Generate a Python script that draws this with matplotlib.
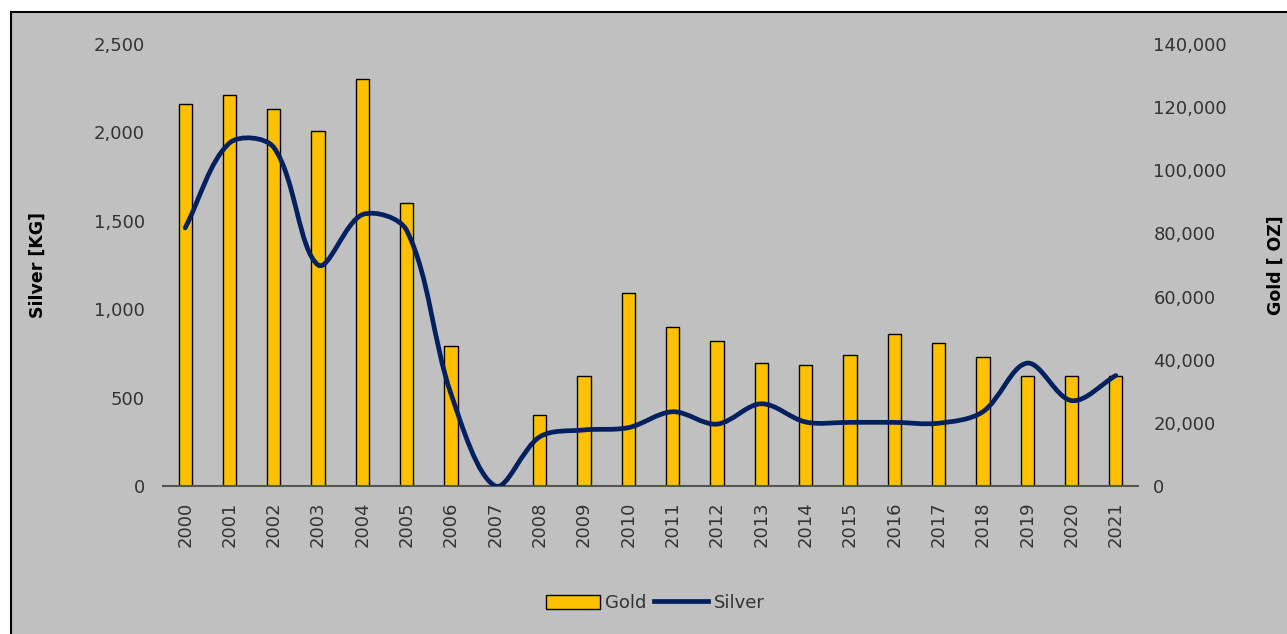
import numpy as np
import matplotlib
matplotlib.use("Agg")
import matplotlib.pyplot as plt
from matplotlib.path import Path
from matplotlib.patches import PathPatch, Rectangle, Patch
from matplotlib.lines import Line2D
from matplotlib.ticker import FuncFormatter

# ===== data =====
years = [str(y) for y in range(2000, 2022)]
gold_oz = [121000, 124000, 119500, 112500, 129000, 89500, 44500, 0, 22500, 35000,
           61000, 50500, 46000, 39000, 38300, 41500, 48000, 45300, 40800, 35000,
           35000, 35000]
silver_kg = [1460, 1940, 1915, 1250, 1535, 1445, 520, 0, 278, 317,
             330, 420, 350, 465, 362, 360, 360, 355, 420, 695,
             483, 625]

BG = "#C0C0C0"
GOLD = "#FFC000"
NAVY = "#002060"
TXT = "#333333"

W, H = 1287, 634
fig = plt.figure(figsize=(W / 100, H / 100), dpi=100, facecolor="white")
# chart frame
fig.patches.append(Rectangle((11 / W, -0.02), 1.05, 1 - 12 / H + 0.02,
                             transform=fig.transFigure, facecolor=BG,
                             edgecolor="black", linewidth=1.5, zorder=-10))

x = np.arange(len(years))
ax_g = fig.add_axes([163 / W, 148 / H, 975 / W, 442 / H])
ax_g.set_facecolor("none")
ax_s = ax_g.twinx()

# --- gold bars (right scale) ---
ax_g.bar(x, gold_oz, width=0.3, color=GOLD, edgecolor="black", linewidth=1.0)
ax_g.set_xlim(-0.5, len(years) - 0.5)
ax_g.set_ylim(0, 140000)
ax_g.set_yticks(np.arange(0, 140001, 20000))
ax_g.yaxis.set_major_formatter(FuncFormatter(lambda v, p: f"{int(v):,}"))
ax_g.yaxis.tick_right()
ax_g.yaxis.set_label_position("right")
ax_g.set_ylabel("Gold [ OZ]", fontsize=12.5, fontweight="bold", color="black", rotation=90)
ax_g.yaxis.set_label_coords((1267 - 163) / 975, 0.5)
ax_g.set_xticks(x)
ax_g.set_xticklabels(years, rotation=90)
ax_g.tick_params(axis="x", length=0, pad=11, labelsize=13, labelcolor=TXT)
ax_g.tick_params(axis="y", length=0, pad=11, labelsize=13, labelcolor=TXT)

# --- silver line (left scale) ---
ax_s.set_ylim(0, 2500)
ax_s.set_yticks(np.arange(0, 2501, 500))
ax_s.yaxis.set_major_formatter(FuncFormatter(lambda v, p: f"{int(v):,}"))
ax_s.yaxis.tick_left()
ax_s.yaxis.set_label_position("left")
ax_s.set_ylabel("Silver [KG]", fontsize=12.5, fontweight="bold", color="black")
ax_s.yaxis.set_label_coords((47 - 163) / 975, 0.5)
ax_s.tick_params(axis="y", length=0, pad=13, labelsize=13, labelcolor=TXT)

# smoothed line, Excel-style: bezier handles scaled by neighbouring segment lengths
sx, sy = 975 / len(years), 442 / 2500   # px per unit, used only to weigh handles
pts = np.column_stack([x * sx, np.array(silver_kg) * sy]).astype(float)
n = len(pts)
c_out, c_in = [], []
for i in range(n):
    prev = pts[max(i - 1, 0)]
    nxt = pts[min(i + 1, n - 1)]
    tan = nxt - prev
    d0 = np.linalg.norm(pts[i] - prev)
    d1 = np.linalg.norm(nxt - pts[i])
    tot = d0 + d1 if d0 + d1 > 0 else 1.0
    c_out.append(pts[i] + tan * (d1 / tot) / 3)
    c_in.append(pts[i] - tan * (d0 / tot) / 3)
to_data = lambda p: (p[0] / sx, p[1] / sy)
verts = [to_data(pts[0])]
codes = [Path.MOVETO]
for i in range(n - 1):
    verts += [to_data(c_out[i]), to_data(c_in[i + 1]), to_data(pts[i + 1])]
    codes += [Path.CURVE4] * 3
ax_s.add_patch(PathPatch(Path(verts, codes), fill=False, edgecolor=NAVY,
                         linewidth=3.4, capstyle="round", joinstyle="round"))

for a in (ax_g, ax_s):
    for s in ("top", "left", "right"):
        a.spines[s].set_visible(False)
ax_s.spines["bottom"].set_visible(False)
ax_g.spines["bottom"].set_color("#555555")
ax_g.spines["bottom"].set_linewidth(1.5)

handles = [Patch(facecolor=GOLD, edgecolor="black", linewidth=1.0),
           Line2D([], [], color=NAVY, linewidth=3.4)]
fig.legend(handles, ["Gold", "Silver"], loc="center", bbox_to_anchor=(655 / W, 31 / H),
           ncol=2, frameon=False, fontsize=13, handlelength=3.0, handleheight=0.8,
           handletextpad=0.3, columnspacing=0.4, labelcolor=TXT)

plt.savefig("out.png", dpi=100, facecolor=fig.get_facecolor())
